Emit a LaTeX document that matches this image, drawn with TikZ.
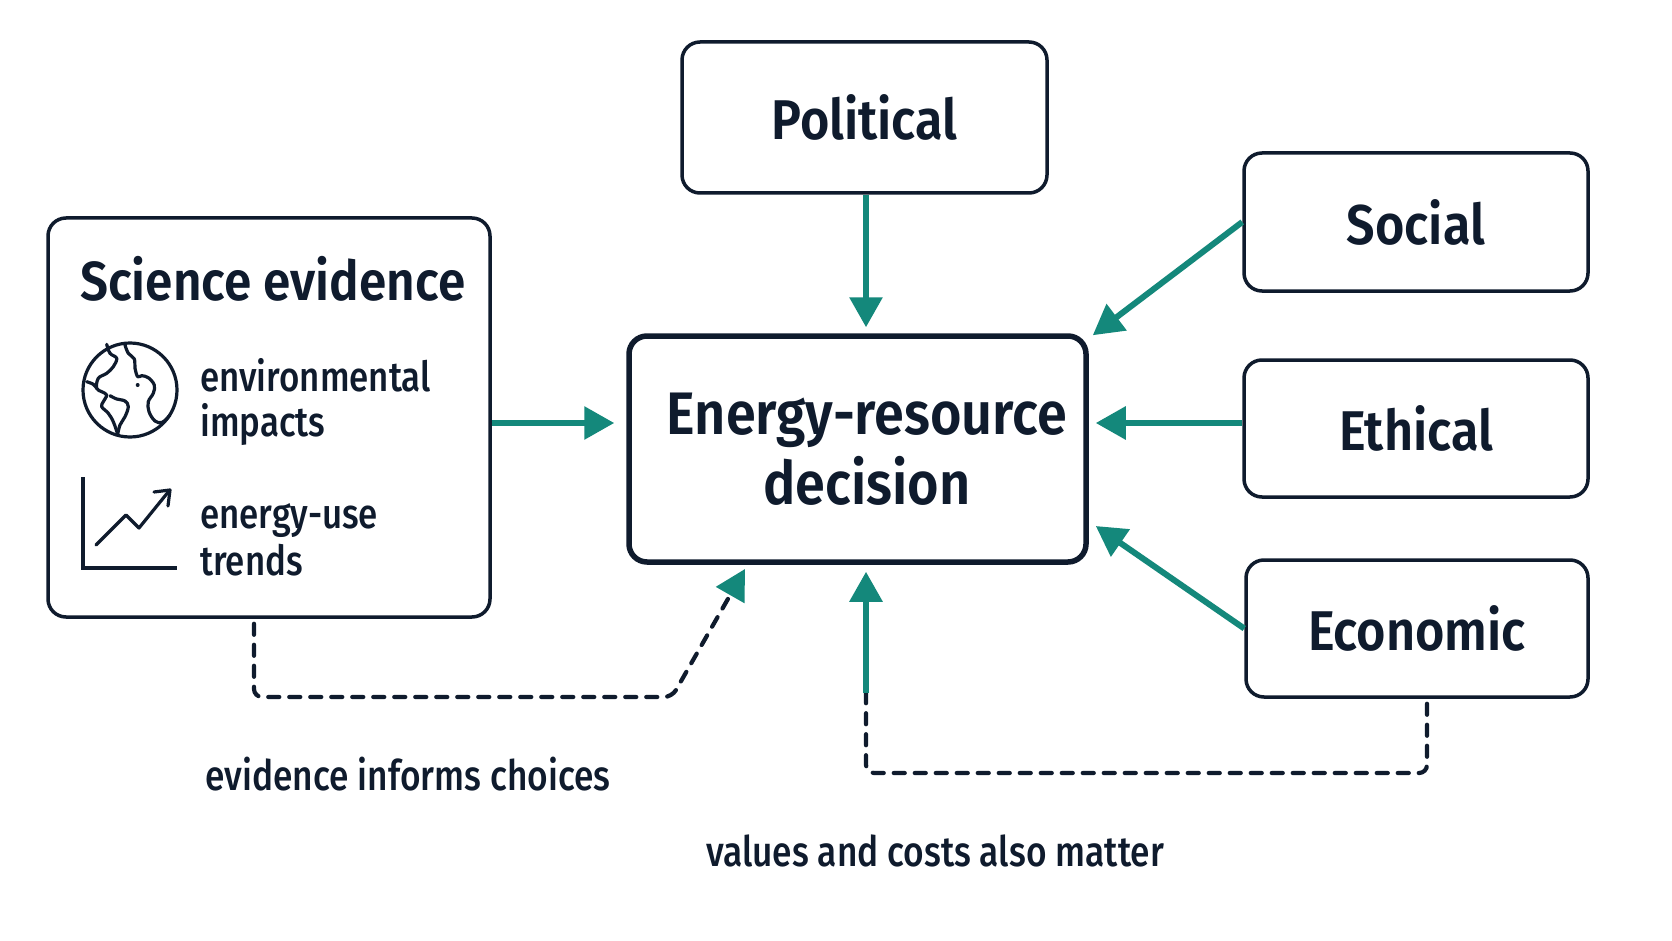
\documentclass[tikz,border=0pt]{standalone}
\usepackage{fontspec}
\setmainfont{Fira Sans}[FakeStretch=0.86, BoldFont={Fira Sans SemiBold}, BoldFeatures={FakeStretch=0.9}]
\newfontfamily\medfont{Fira Sans Medium}[FakeStretch=0.84]
\usetikzlibrary{arrows.meta,calc}
\definecolor{ink}{HTML}{0F1B2D}
\definecolor{tealc}{HTML}{14887B}
\begin{document}
\begin{tikzpicture}[x=1pt,y=-1pt,
  box/.style={draw=ink, line width=3.5pt, rounded corners=18pt, fill=white, inner sep=0pt},
  lbl/.style={font=\fontsize{56}{60}\selectfont\bfseries, text=ink},
  bigtxt/.style={font=\fontsize{60}{70}\selectfont\bfseries, text=ink, align=center, inner sep=0pt},
  ttl/.style={font=\fontsize{55}{60}\selectfont\bfseries, text=ink, inner sep=0pt, anchor=base west},
  small/.style={font=\medfont\fontsize{41.5}{44}\selectfont, text=ink, inner sep=0pt, anchor=base west},
  note/.style={font=\medfont\fontsize{42}{44}\selectfont, text=ink, inner sep=0pt},
  arr/.style={draw=tealc, line width=6pt, -{Triangle[length=30pt,width=32pt]}},
  dashline/.style={draw=ink, line width=4.2pt, dash pattern=on 11pt off 10pt, line cap=round, rounded corners=8pt},
  icon/.style={draw=ink, line width=3.2pt, line cap=round, line join=round},
]
\useasboundingbox[fill=white] (0,0) rectangle (1672,941);

% boxes
\node[box, minimum width=365pt, minimum height=151pt, lbl] (pol) at (864.5,117.5) {Political};
\node[box, minimum width=344pt, minimum height=138pt, lbl] (soc) at (1416,222) {Social};
\node[box, minimum width=344pt, minimum height=137pt, lbl] (eth) at (1416,428.5) {Ethical};
\node[box, minimum width=342pt, minimum height=137pt, lbl] (eco) at (1417,628.5) {Economic};
\node[box, line width=5.5pt, minimum width=457pt, minimum height=226pt] (dec) at (857.5,449) {};
\node[bigtxt] (dectxt) at (867,449) {Energy-resource\\decision};
\node[box, minimum width=442pt, minimum height=399pt] (sci) at (269,417.5) {};

% science box content
\node[ttl] (scitt) at (80,300) {Science evidence};
\node[small] (env1) at (200,391) {environmental};
\node[small] (env2) at (200,436) {impacts};
\node[small] (eu1) at (200,528) {energy-use};
\node[small] (eu2) at (200,575) {trends};

% globe icon
\draw[icon] (130,390) circle[radius=47pt];
\draw[icon] plot[smooth, tension=0.6] coordinates {(106.7,344.3) (110,353.3) (116.7,358.3) (113.3,366.7) (106.7,373.3) (98.3,378.3) (96.7,388.3) (101.7,391.7) (106.7,395) (103.3,401.7) (101.7,406.7) (108.3,413.3) (113.3,421.7) (117.7,434.3)};
\draw[icon] plot[smooth, tension=0.6] coordinates {(117.7,434.3) (120,425) (125,416.7) (128.3,406.7) (125,401) (116.7,399) (110,395.7)};
\draw[icon] plot[smooth, tension=0.6] coordinates {(86.7,381.7) (93.3,384.3) (96.7,388.3)};
\draw[icon] plot[smooth, tension=0.6] coordinates {(125,345) (128.3,353.3) (134.3,359) (135,368.3) (137.7,376.7) (141.7,375.7) (148.3,377.7) (154.3,385) (153.3,393.3) (148.3,401.7) (149,411.7) (155,421) (162.3,422.3) (170,415)};
\fill[ink] (137.7,385) circle[radius=2pt];

% chart icon
\draw[icon, line cap=butt, line join=miter] (83,477) |- (177,568);
\draw[icon] (96,545) -- (126,515) -- (139,528) -- (169,491);
\draw[icon] (154,492) -- (170,490) -- (168,506);

% labels below
\node[note] (n1) at (408,774) {evidence informs choices};
\node[note] (n2) at (935,850.5) {values and costs also matter};

% solid teal arrows
\draw[arr, shorten >=6pt] (pol.south -| 866,0) -- (dec.north -| 866,0);
\coordinate (ay) at (0,423);
\draw[arr, shorten >=12pt] (sci.east |- ay) -- (dec.west |- ay);
\draw[arr, shorten >=7pt] (eth.west |- ay) -- (dec.east |- ay);
\draw[arr] (soc.west) -- ($(dec.north east)+(4,2)$);
\draw[arr] (eco.west) -- ($(dec.east |- 0,526)+(7,0)$);

% dashed connectors
\coordinate (d1) at (254,697);
\coordinate (d2) at (672,697);
\coordinate (d3) at (745,569);
\draw[dashline, -{Triangle[length=30pt,width=32pt,color=tealc]}] ($(sci.south -| d1)+(0,5)$) -- (d1) -- (d2) -- (d3);
\coordinate (e1) at (1427,773);
\coordinate (e2) at (866,773);
\coordinate (e3) at (866,693);
\draw[dashline] ($(eco.south -| e1)+(0,5)$) -- (e1) -- (e2) -- (e3);
\draw[arr, shorten >=7pt] (e3) -- (dec.south -| e3);
\end{tikzpicture}
\end{document}
